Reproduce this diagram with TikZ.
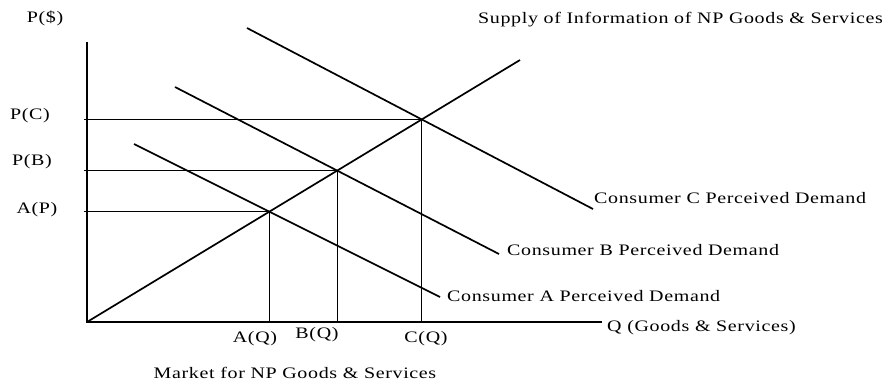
\documentclass[tikz,border=0pt]{standalone}
\usepackage{fontspec}
\setmainfont{Liberation Serif}[FakeStretch=1.25,LetterSpace=4]
\usetikzlibrary{calc}

\begin{document}
\begin{tikzpicture}[x=1pt,y=-1pt,
    axis/.style={line width=2.8pt},
    curve/.style={line width=1.7pt},
    guide/.style={line width=1.1pt},
    lbl/.style={inner sep=0pt,font=\fontsize{16}{18}\selectfont}]
                    \useasboundingbox (0,0) rectangle (886,384);
                    \coordinate (o) at (87,322);
                    \coordinate (ytop) at (87,42);
                    \coordinate (xend) at (602,322);
                    \coordinate (s) at (520,60);
                    \coordinate (da) at (134,144);
                    \coordinate (da') at (440,297);
                    \coordinate (db) at (175,87);
                    \coordinate (db') at (499,254);
                    \coordinate (dc) at (247,28);
                    \coordinate (dc') at (593,209);
                    \coordinate (ea) at (intersection of o--s and da--da');
                    \coordinate (eb) at (intersection of o--s and db--db');
                    \coordinate (ec) at (intersection of o--s and dc--dc');

                    \node[lbl] (pd) at (45,18) {P(\$)};
                    \node[lbl] (pc) at (30,116) {P(C)};
                    \node[lbl] (pb) at (32,162) {P(B)};
                    \node[lbl] (ap) at (37,210) {A(P)};
                    \node[lbl] (aq) at (255,339) {A(Q)};
                    \node[lbl] (bq) at (317,335) {B(Q)};
                    \node[lbl] (cq) at (426,339) {C(Q)};
                    \node[lbl,anchor=west] (q) at (607,328) {Q (Goods \& Services)};
                    \node[lbl,anchor=west] (sup) at (478,20) {Supply of Information of NP Goods \& Services};
                    \node[lbl,anchor=west] (la) at (447,296) {Consumer A Perceived Demand};
                    \node[lbl,anchor=west] (lb) at (507,250) {Consumer B Perceived Demand};
                    \node[lbl,anchor=west] (lc) at (594,198) {Consumer C Perceived Demand};
                    \node[lbl] (mkt) at (295,373) {Market for NP Goods \& Services};

                    \draw[axis] (ytop) -- (o) -- (xend);
                    \draw[curve] (o) -- (s);
                    \draw[curve] (da) -- (da');
                    \draw[curve] (db) -- (db');
                    \draw[curve] (dc) -- (dc');
                    \draw[guide,shorten <=-3pt] (o |- ec) -- (ec);
                    \draw[guide,shorten <=-3pt] (o |- eb) -- (eb);
                    \draw[guide,shorten <=-3pt] (o |- ea) -- (ea);
                    \draw[guide] (ec) -- (o -| ec);
                    \draw[guide] (eb) -- (o -| eb);
                    \draw[guide] (ea) -- (o -| ea);
                \end{tikzpicture}
\end{document}
